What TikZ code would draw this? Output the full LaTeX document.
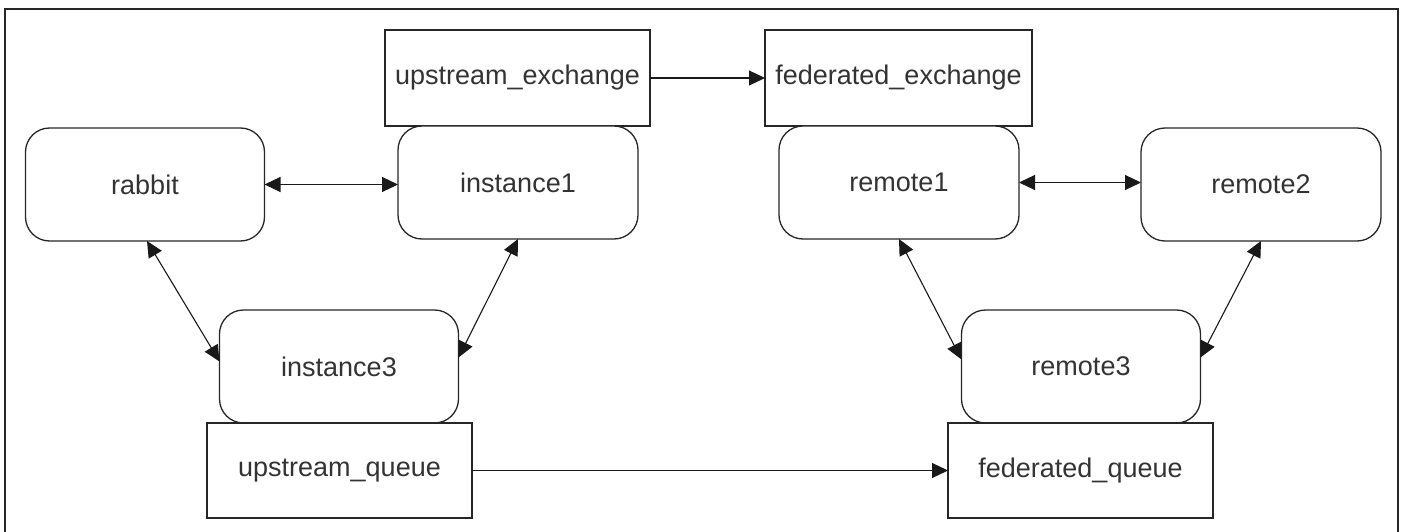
\documentclass[tikz,border=0pt]{standalone}
\usepackage{fontspec}
\setmainfont{Liberation Sans}
\usetikzlibrary{arrows.meta}
\tikzset{
  boxbase/.style={draw=black!85, line width=1.3pt, inner sep=0pt, outer sep=0pt,
    text=black!80, font=\fontsize{27}{30}\selectfont, fill=white},
  squarebox/.style={boxbase, rectangle, minimum width=265pt, minimum height=96pt},
  roundbox/.style={boxbase, rectangle, rounded corners=24pt, minimum width=239pt, minimum height=113pt},
  tip/.tip={Triangle[length=16pt,width=15pt]},
  link/.style={draw=black!90, line width=1.1pt, -tip},
  twoway/.style={link, tip-tip},
  frameline/.style={draw=black!85, line width=1.3pt}
}
\begin{document}
\begin{tikzpicture}[x=1pt, y=-1pt]
  \useasboundingbox (0,0) rectangle (1405,532);
  % outer frame, open at the bottom edge of the page
  \draw[frameline] (5,545) -- (5,9) -- (1398,9) -- (1398,545);

  % exchanges
  \node[squarebox] (upex) at (517.5,78) {upstream\_exchange};
  \node[squarebox, minimum width=267pt] (fedex) at (898.5,78) {federated\_exchange};

  % broker nodes, upper row
  \node[roundbox] (rabbit) at (145,184.5) {rabbit};
  \node[roundbox, minimum width=240pt] (inst1) at (518,182.5) {instance1};
  \node[roundbox, minimum width=240pt] (remote1) at (899,182.5) {remote1};
  \node[roundbox, minimum width=240pt] (remote2) at (1261,184.5) {remote2};

  % broker nodes, lower row
  \node[roundbox] (inst3) at (339,366.5) {instance3};
  \node[roundbox] (remote3) at (1081,366.5) {remote3};

  % queues
  \node[squarebox, minimum height=95pt] (upq) at (339.5,470.5) {upstream\_queue};
  \node[squarebox, minimum height=95pt] (fedq) at (1080.5,470.5) {federated\_queue};

  % federation links
  \draw[link] (upex.east) -- (fedex.west);
  \draw[link] (upq.east) -- (fedq.west);

  % cluster links
  \draw[twoway] (rabbit.east) -- (rabbit.east -| inst1.west);
  \draw[twoway] ([xshift=2pt]rabbit.south) -- ([yshift=5pt]inst3.west);
  \draw[twoway] (inst1.south) -- ([yshift=9pt]inst3.east);
  \draw[twoway] (remote1.east) -- (remote1.east -| remote2.west);
  \draw[twoway] (remote1.south) -- ([yshift=7pt]remote3.west);
  \draw[twoway] (remote2.south) -- ([yshift=9pt]remote3.east);
\end{tikzpicture}
\end{document}
